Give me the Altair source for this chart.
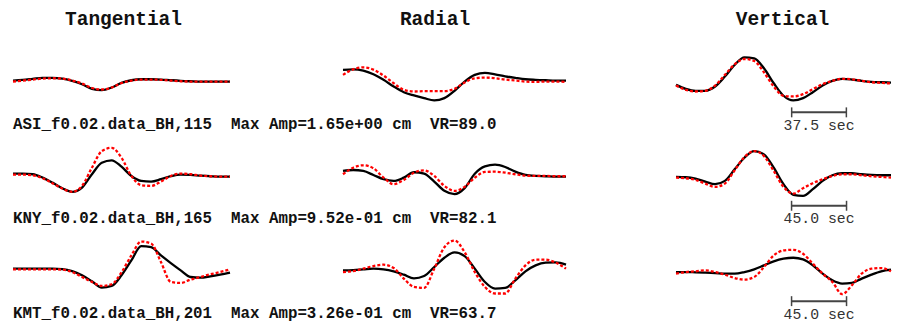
import altair as alt
import pandas as pd

COMPONENTS = ["Tangential", "Radial", "Vertical"]
STATIONS = ["ASI_f0.02.data_BH,115", "KNY_f0.02.data_BH,165", "KMT_f0.02.data_BH,201"]
MAX_AMP = ["1.65e+00", "9.52e-01", "3.26e-01"]
VR = ["89.0", "82.1", "63.7"]
SCALE_BAR_SEC = [37.5, 45.0, 45.0]
SCALE_BAR_START = [79.3, 94.6, 94.6]
SAMPLE_DT = [6.7, 8.0, 8.0]

# observed (black) and synthetic (red dashed) waveforms, relative amplitude
ASI_T_OBS = [1, 1.7, 2.7, 3.7, 3.7, 3, 0.7, -2.7, -7.3, -8.7, -6, -1.3, 1.3, 2.3, 2.3, 2, 1.3, 0.7, 0.3, 0, 0, 0, 0]
ASI_T_SYN = [0, 1, 2, 3, 3.3, 3, 1, -2, -6.5, -8, -6, -1.5, 1, 2, 2, 1.7, 1, 0.3, 0, 0, 0, 0, 0]
ASI_R_OBS = [11.7, 12.3, 11, 7.3, 1.7, -5, -10.7, -14, -16.7, -19, -16.7, -9.3, 0, 6.7, 8.7, 7.3, 5.3, 3.7, 2.3, 1.7, 1.3, 1, 1]
ASI_R_SYN = [6.7, 12.3, 14.3, 12, 6, -1.7, -8.3, -10, -9.7, -9.7, -9.7, -7.3, -1, 3.3, 4, 3.3, 2, 1, 0, -0.3, 0, 0, -0.3]
ASI_Z_OBS = [-3.3, -7.3, -9.3, -9.3, -5, 5, 16.7, 24.3, 23.3, 13.3, -1.7, -14.3, -19, -16.7, -10.7, -4, 0.7, 2.7, 2, 0.7, -0.3, -0.7, -1]
ASI_Z_SYN = [-4, -8.3, -10, -9.3, -4, 6.7, 17.3, 22.7, 20.7, 9.3, -5, -14.3, -15, -12.7, -7.7, -2.7, 0.7, 2.7, 2.3, 0.7, -0.7, -1.3, -2]

KNY_T_OBS = [1.3, 1.3, 0.7, -2.7, -7.7, -13.3, -17, -12.7, 0.7, 12.3, 14.7, 8.3, -1, -6, -6.7, -4.3, -1.3, 0.3, 0, -0.7, -1.3, -1.7, -1.7]
KNY_T_SYN = [0.3, 0.3, -0.3, -3.3, -8.3, -13.7, -17, -11, 7.3, 24, 27.3, 17.3, -1, -10.3, -11, -6.7, -1, 1.3, 0.7, -0.7, -1.3, -1.7, -1.7]
KNY_R_OBS = [4, 5, 4, 0, -4.3, -6, -2.7, 2.7, 1.3, -6.7, -16, -19.3, -13.3, 1.3, 8.7, 10.3, 8, 3.3, 0, -1, -1.3, -1.7, -1.7]
KNY_R_SYN = [0.7, 7.3, 9.7, 6.7, -2.7, -9.3, -5, 2.3, 4.7, -1, -11, -16, -12, -2.7, 3, 3.3, 2.3, 0.7, -0.7, -1, -1, -1.3, -1.3]
KNY_Z_OBS = [-2, -2.3, -3.7, -6.7, -9.3, -6, 5.7, 17.3, 24, 20.7, 7.3, -9.3, -20, -21, -14.3, -6, -0.3, 1.7, 1.7, 0.7, 0, -0.3, -0.3]
KNY_Z_SYN = [-2.7, -3.3, -5, -8.7, -12, -8.7, 4.7, 18, 24, 19, 4, -12, -18.7, -13.3, -8.3, -4.3, -1, 0.7, 0.7, -0.3, -1.3, -2, -2.7]

KMT_T_OBS = [1.7, 1.7, 1.7, 1.7, 1.7, 1.3, -0.7, -5, -11, -17.3, -15.7, -5, 10, 24.3, 23.3, 15, 7.3, 0, -6.7, -7.3, -6, -4.3, -2.3]
KMT_T_SYN = [1, 1, 1, 1, 1, 0.7, -1.7, -6.7, -11.7, -15.7, -14, -2, 15, 29, 27, 8.3, -11.7, -12.7, -9.3, -6.7, -4, -1.7, 1]
KMT_R_OBS = [0, 0.3, 1, 1.7, 1, -1, -4.3, -8, -5.7, 3.3, 12.7, 18, 14.3, 1.7, -11.7, -18.3, -17.7, -10, -1, 5, 7.7, 8, 5.7]
KMT_R_SYN = [-1.7, -0.7, 1.7, 4.3, 5.7, 2.3, -8.3, -16.7, -17.7, 1.7, 23.3, 30, 18.3, -1.7, -16.7, -23.3, -23.3, -8.3, 5, 10.7, 10.7, 7.7, 1.7]
KMT_Z_OBS = [-1.7, -1.7, -2, -2.3, -2.7, -3.3, -3.3, -1.7, 1, 5, 9, 11.7, 12.7, 11, 5, -3.3, -10, -13.3, -12.7, -8.3, -4.3, -1, 0.7]
KMT_Z_SYN = [-3.3, -1.7, -1, 0, -1.7, -4.3, -7.7, -9.3, -6.7, 3.3, 15, 20, 20.7, 16.7, 6.7, -3.3, -11.7, -24, -15, -3.3, 1.7, 2.3, -1]

TRACES = [
    [(ASI_T_OBS, ASI_T_SYN), (ASI_R_OBS, ASI_R_SYN), (ASI_Z_OBS, ASI_Z_SYN)],
    [(KNY_T_OBS, KNY_T_SYN), (KNY_R_OBS, KNY_R_SYN), (KNY_Z_OBS, KNY_Z_SYN)],
    [(KMT_T_OBS, KMT_T_SYN), (KMT_R_OBS, KMT_R_SYN), (KMT_Z_OBS, KMT_Z_SYN)],
]

# ---- layout (chart units = pixels of the drawing area) ----
W, H = 888, 317                # whole chart size
XW = 878                       # horizontal extent of the drawing units
COL_X = [0, 330, 663]          # left edge of each component column
COL_W = [217, 223, 215]        # width of each column's time window
ROW_BASE = [72, 166, 262]      # zero line of each station row
TITLE_X = [110.5, 422, 769.5]
TITLE_Y = 14.7
FONT = "Liberation Mono"
NBSP2 = "\u00a0\u00a0"

trace_rows = []
for r in range(3):
    dt = SAMPLE_DT[r]
    T = 22 * dt
    for c in range(3):
        for kind, vals in zip(("obs", "syn"), TRACES[r][c]):
            for i, a in enumerate(vals):
                t = i * dt
                trace_rows.append({"panel": f"{r}-{c}", "kind": kind, "t": t, "amp": a,
                                   "gx": COL_X[c] + t / T * COL_W[c], "gy": ROW_BASE[r] - a})
traces = pd.DataFrame(trace_rows)

titles = pd.DataFrame({"text": COMPONENTS, "gx": TITLE_X, "gy": [TITLE_Y] * 3})
labels = pd.DataFrame({
    "text": [f"{STATIONS[r]}{NBSP2}Max Amp={MAX_AMP[r]} cm{NBSP2}VR={VR[r]}" for r in range(3)],
    "gx": [0] * 3, "gy": [ROW_BASE[r] + 48 for r in range(3)]})

bar_rows, cap_rows = [], []
for r in range(3):
    T = 22 * SAMPLE_DT[r]
    x0 = COL_X[2] + SCALE_BAR_START[r] / T * COL_W[2]
    x1 = COL_X[2] + (SCALE_BAR_START[r] + SCALE_BAR_SEC[r]) / T * COL_W[2]
    yb = ROW_BASE[r] + 31
    bar_rows.append({"x0": x0, "x1": x1, "gy": yb, "mid": (x0 + x1) / 2,
                     "ly": ROW_BASE[r] + 48.5, "text": f"{SCALE_BAR_SEC[r]:.1f} sec"})
    for xx in (x0, x1):
        cap_rows.append({"gx": xx, "y0": yb - 5, "y1": yb + 5})
bars = pd.DataFrame(bar_rows)
caps = pd.DataFrame(cap_rows)

xs = alt.Scale(domain=[0, XW], nice=False, zero=False)
ys = alt.Scale(domain=[H, 0], nice=False, zero=False)
X = lambda f: alt.X(f, scale=xs, axis=None)
Y = lambda f: alt.Y(f, scale=ys, axis=None)

obs_layer = alt.Chart(traces).transform_filter("datum.kind == 'obs'").mark_line(
    color="black", strokeWidth=2.3, interpolate="monotone").encode(x=X("gx:Q"), y=Y("gy:Q"), detail="panel:N")
syn_layer = alt.Chart(traces).transform_filter("datum.kind == 'syn'").mark_line(
    color="#ff0000", strokeWidth=2.3, strokeDash=[3, 2], interpolate="monotone").encode(
    x=X("gx:Q"), y=Y("gy:Q"), detail="panel:N")
title_layer = alt.Chart(titles).mark_text(
    font=FONT, fontSize=19.5, fontWeight="bold", color="#111", align="center", baseline="alphabetic"
).encode(x=X("gx:Q"), y=Y("gy:Q"), text="text:N")
label_layer = alt.Chart(labels).mark_text(
    font=FONT, fontSize=15.8, fontWeight="bold", color="#111", align="left", baseline="alphabetic"
).encode(x=X("gx:Q"), y=Y("gy:Q"), text="text:N")
bar_layer = alt.Chart(bars).mark_rule(color="#444", strokeWidth=2).encode(
    x=X("x0:Q"), x2="x1:Q", y=Y("gy:Q"))
cap_layer = alt.Chart(caps).mark_rule(color="#444", strokeWidth=1.5).encode(
    x=X("gx:Q"), y=Y("y0:Q"), y2="y1:Q")
bar_text = alt.Chart(bars).mark_text(
    font=FONT, fontSize=14.8, color="#333", align="center", baseline="alphabetic"
).encode(x=X("mid:Q"), y=Y("ly:Q"), text="text:N")

chart = alt.layer(obs_layer, syn_layer, title_layer, label_layer, bar_layer, cap_layer, bar_text).properties(
    width=W, height=H, padding=0,
    autosize=alt.AutoSizeParams(type="fit", contains="padding"),
).configure_view(stroke=None)

chart.save("out.html", embed_options={"renderer": "svg", "actions": False})
